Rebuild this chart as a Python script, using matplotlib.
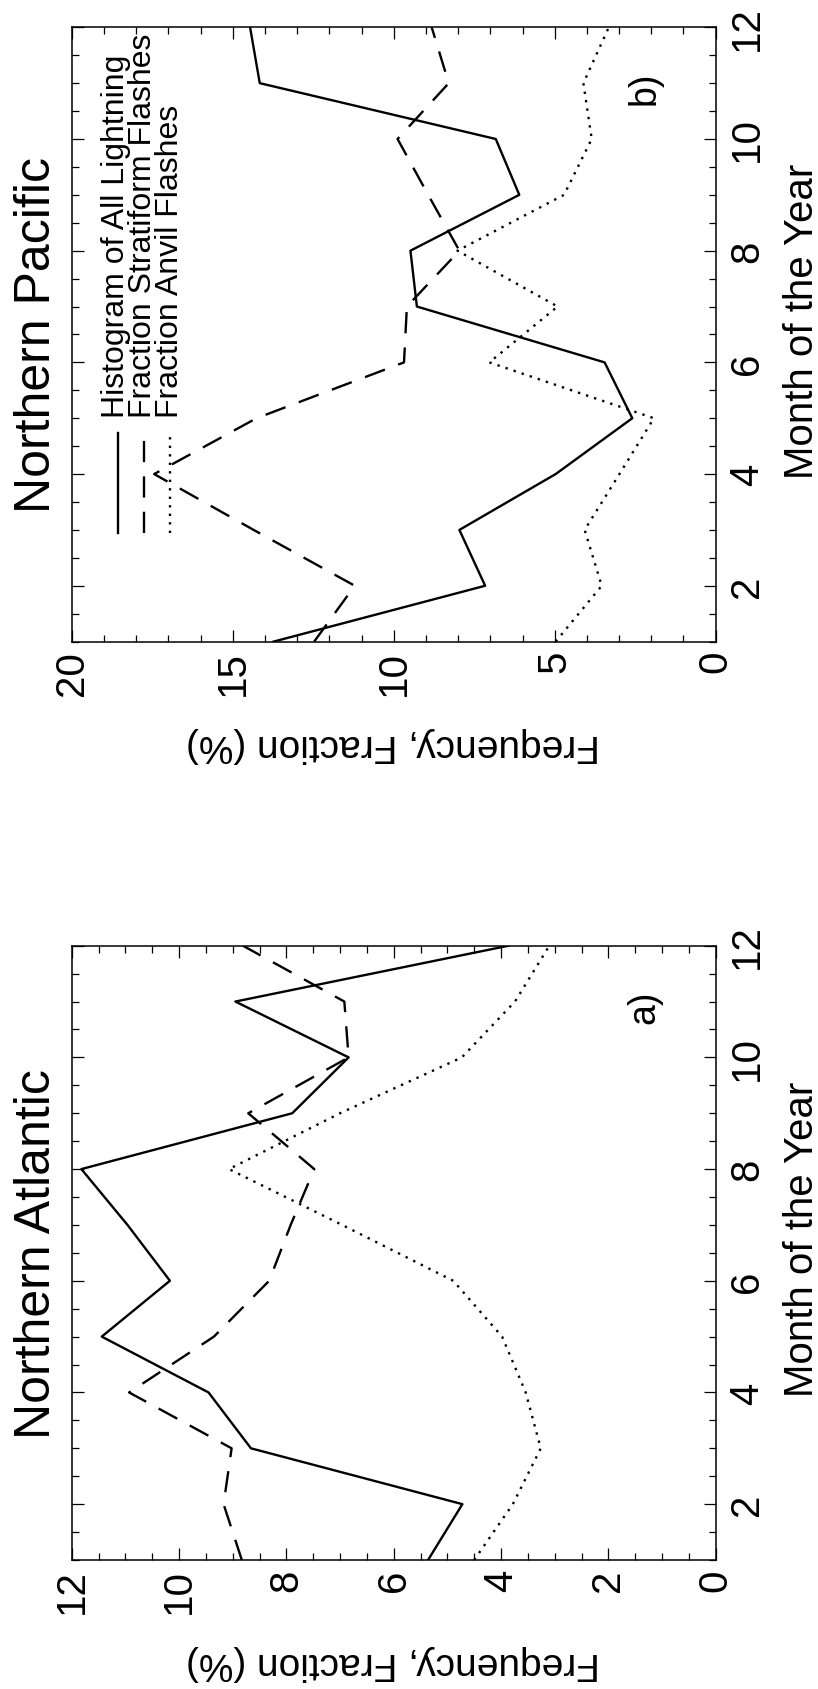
import matplotlib
matplotlib.use('Agg')
import matplotlib.pyplot as plt
from matplotlib.ticker import MultipleLocator

plt.rcParams['font.family'] = ['Liberation Sans', 'DejaVu Sans']

# ---------------- data ----------------
months = [1, 2, 3, 4, 5, 6, 7, 8, 9, 10, 11, 12]

atl_all = [5.36, 4.72, 8.66, 9.45, 11.44, 10.17, 10.96, 11.82, 7.89, 6.84, 8.95, 3.86]
atl_strat = [8.83, 9.17, 9.02, 10.93, 9.35, 8.32, 7.92, 7.48, 8.71, 6.84, 6.92, 8.81]
atl_anvil = [4.50, 3.78, 3.26, 3.54, 3.98, 4.89, 6.96, 9.07, 7.00, 4.73, 3.74, 3.10]

pac_all = [13.73, 7.16, 7.96, 4.97, 2.59, 3.45, 9.28, 9.48, 6.10, 6.83, 14.16, 14.46]
pac_strat = [12.47, 11.21, 14.35, 17.44, 14.26, 9.68, 9.59, 7.96, 8.93, 9.88, 8.29, 8.82]
pac_anvil = [4.97, 3.54, 4.07, 2.99, 1.92, 7.03, 4.91, 8.02, 4.71, 3.85, 4.11, 3.32]

legend_labels = ['Histogram of All Lightning', 'Fraction Stratiform Flashes',
                 'Fraction Anvil Flashes']
titles = ['Northern Atlantic', 'Northern Pacific']
tags = ['a)', 'b)']
xlabel = 'Month of the Year'
ylabel = 'Frequency, Fraction (%)'

W, H = 818, 1690
fig = plt.figure(figsize=(W / 100, H / 100), dpi=100)

styles = ['-', (0, (9, 6)), (0, (1, 2.6))]
LW = 1.7


def px(x, y):
    """pixel (from top-left) -> figure fraction"""
    return x / W, 1 - y / H


def panel(top_px, series, fmax, fmajor, fminor, title, tag, legend=False):
    left, right = 71.7, 715.7
    bottom_px = top_px + 614.3
    ax = fig.add_axes([left / W, 1 - bottom_px / H, (right - left) / W, 614.3 / H])
    for vals, ls in zip(series, styles):
        ax.plot(vals, months, color='black', lw=LW, linestyle=ls)
    ax.set_xlim(fmax, 0)
    ax.set_ylim(1, 12)
    ax.xaxis.set_major_locator(MultipleLocator(fmajor))
    ax.xaxis.set_minor_locator(MultipleLocator(fminor))
    ax.yaxis.set_major_locator(MultipleLocator(2))
    ax.yaxis.set_minor_locator(MultipleLocator(0.5))
    for s in ax.spines.values():
        s.set_linewidth(1.1)
    ax.tick_params(which='both', direction='in', top=True, bottom=True,
                   left=True, right=True, width=0.9, color='black')
    ax.tick_params(which='major', length=8.6)
    ax.tick_params(which='minor', length=4.8)
    ax.tick_params(axis='x', labelbottom=True, labeltop=False,
                   labelrotation=90, labelsize=29, pad=6)
    ax.tick_params(axis='y', labelleft=False, labelright=True,
                   labelrotation=90, labelsize=29, pad=9)
    for t in ax.yaxis.get_major_ticks():
        t.label2.set_va('center')
    for t in ax.xaxis.get_major_ticks():
        t.label1.set_ha('center')
        t.label1.set_va('top')

    # panel tag
    ax.text(0.890, 0.902, tag, transform=ax.transAxes, rotation=90,
            ha='center', va='center', fontsize=27)

    # titles / axis labels (whole page rotated)
    cy = top_px + 614.3 / 2
    fig.text(*px(50, cy), title, rotation=90, rotation_mode='anchor',
             ha='center', va='baseline', fontsize=36)
    fig.text(*px(813, cy - 14), xlabel, rotation=90, rotation_mode='anchor',
             ha='center', va='baseline', fontsize=29)
    fig.text(*px(393, bottom_px + 92), ylabel, rotation=180, rotation_mode='anchor',
             ha='center', va='baseline', fontsize=28)

    if legend:
        xs_line = [0.0713, 0.113, 0.153]
        for xl, ls in zip(xs_line, styles):
            ax.plot([xl, xl], [0.176, 0.339], transform=ax.transAxes,
                    color='black', lw=LW, linestyle=ls)
        ax.text(0.0455, 0.365, '\n'.join(legend_labels), transform=ax.transAxes,
                rotation=90, ha='left', va='bottom', multialignment='left',
                linespacing=0.86, fontsize=23)
    return ax


panel(946.7, [atl_all, atl_strat, atl_anvil], 12, 2, 0.5, titles[0], tags[0])
panel(28.3, [pac_all, pac_strat, pac_anvil], 20, 5, 1, titles[1], tags[1], legend=True)

fig.savefig('out.png', dpi=100)
